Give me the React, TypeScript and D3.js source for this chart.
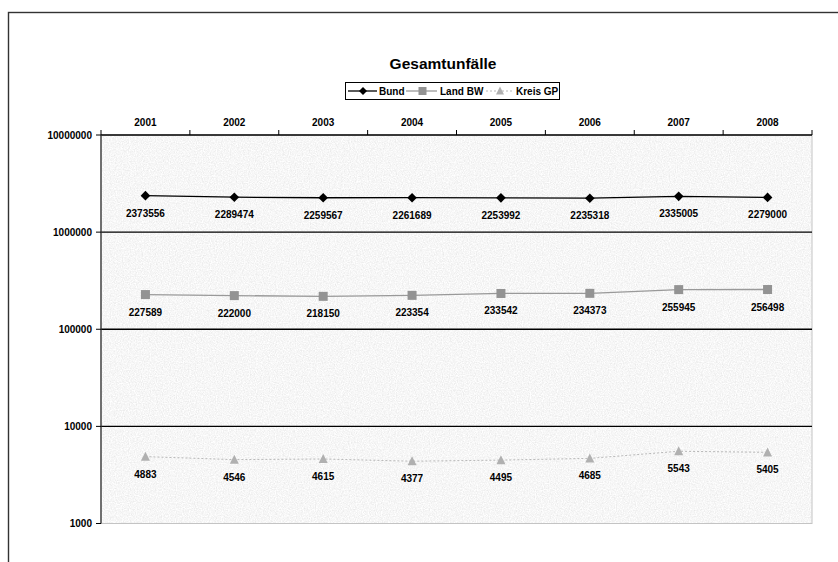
import React from "react";
import * as d3 from "d3";

const years = ["2001", "2002", "2003", "2004", "2005", "2006", "2007", "2008"];
const bund = [2373556, 2289474, 2259567, 2261689, 2253992, 2235318, 2335005, 2279000];
const landBW = [227589, 222000, 218150, 223354, 233542, 234373, 255945, 256498];
const kreisGP = [4883, 4546, 4615, 4377, 4495, 4685, 5543, 5405];
const yTicks = [1000, 10000, 100000, 1000000, 10000000];
const seriesNames = ["Bund", "Land BW", "Kreis GP"];

const FONT = "'Liberation Sans', Arial, Helvetica, sans-serif";

export default function App() {
  const left = 101, right = 812, top = 135, bottom = 523.5;
  const x = d3.scaleBand<string>().domain(years).range([left, right]);
  const y = d3.scaleLog().domain([1000, 10000000]).range([bottom, top]);
  const cx = (d: string) => (x(d) as number) + x.bandwidth() / 2;
  const line = d3.line<number>().x((_, i) => cx(years[i])).y((v) => y(v));
  const boundaries = [...years.map((d) => x(d) as number), right];

  const diamond = (px: number, py: number, r: number) =>
    `M${px},${py - r}L${px + r},${py}L${px},${py + r}L${px - r},${py}Z`;
  const tri = (px: number, py: number, s: number) =>
    `M${px},${py - s * 0.55}L${px + s / 2},${py + s * 0.45}L${px - s / 2},${py + s * 0.45}Z`;

  const labelStyle = { fontFamily: FONT, fontSize: 10, fontWeight: 700, fill: "#000" } as const;
  const legendStyle = { fontFamily: FONT, fontSize: 10, fontWeight: 700, fill: "#000" } as const;

  return (
    <svg width={838} height={562} style={{ position: "absolute", left: 0, top: 0, background: "#fff" }}>
      <defs>
        <filter id="granite" x="0" y="0" width="1" height="1" filterUnits="objectBoundingBox">
          <feTurbulence type="fractalNoise" baseFrequency="0.85" numOctaves={2} seed={3} result="n" />
          <feColorMatrix
            in="n"
            type="matrix"
            values="0.3 0 0 0 0.775  0.3 0 0 0 0.775  0.3 0 0 0 0.775  0 0 0 0 1"
            result="g"
          />
          <feComposite in="g" in2="SourceGraphic" operator="in" />
        </filter>
      </defs>

      {/* outer chart border */}
      <rect x={8.5} y={12.5} width={900} height={600} fill="none" stroke="#333" strokeWidth={1.4} />

      {/* title */}
      <text x={443} y={69} textAnchor="middle" style={{ fontFamily: FONT, fontSize: 15.5, fontWeight: 700 }}>
        Gesamtunfälle
      </text>

      {/* legend */}
      <g>
        <rect x={345.5} y={82.5} width={214} height={17} fill="#fff" stroke="#000" strokeWidth={1} />
        <line x1={348} x2={377} y1={91} y2={91} stroke="#000" strokeWidth={1.3} />
        <path d={diamond(363, 91, 4)} fill="#000" />
        <text x={379} y={95} style={legendStyle}>{seriesNames[0]}</text>
        <line x1={406} x2={437} y1={91} y2={91} stroke="#999" strokeWidth={1.3} />
        <rect x={418.5} y={87} width={8} height={8} fill="#939393" />
        <text x={440} y={95} style={legendStyle}>{seriesNames[1]}</text>
        <line x1={486} x2={514} y1={91} y2={91} stroke="#b8b8b8" strokeWidth={1} strokeDasharray="2,2" />
        <path d={tri(500, 91, 8)} fill="#b0b0b0" />
        <text x={516} y={95} style={legendStyle}>{seriesNames[2]}</text>
      </g>

      {/* plot area */}
      <rect x={left} y={top} width={right - left} height={bottom - top} fill="#ececec" />
      <rect x={left} y={top} width={right - left} height={bottom - top} fill="#fff" filter="url(#granite)" />
      <rect x={left} y={top} width={right - left} height={bottom - top} fill="none" stroke="#c4c4c4" strokeWidth={1} />

      {/* gridlines */}
      {yTicks.slice(1, -1).map((t) => (
        <line key={t} x1={left} x2={right} y1={y(t)} y2={y(t)} stroke="#000" strokeWidth={1.3} />
      ))}

      {/* top axis (categories) */}
      <line x1={left} x2={right} y1={top} y2={top} stroke="#000" strokeWidth={1.3} />
      {boundaries.map((b, i) => (
        <line key={i} x1={b} x2={b} y1={top - 5} y2={top} stroke="#000" strokeWidth={1} />
      ))}
      {years.map((d) => (
        <text key={d} x={cx(d)} y={126} textAnchor="middle" style={labelStyle}>
          {d}
        </text>
      ))}

      {/* left axis */}
      <line x1={left} x2={left} y1={top} y2={bottom} stroke="#333" strokeWidth={1.3} />
      {yTicks.map((t) => (
        <g key={t}>
          <line x1={left - 5} x2={left} y1={y(t)} y2={y(t)} stroke="#000" strokeWidth={1} />
          <text x={92} y={y(t) + 3.5} textAnchor="end" style={labelStyle}>
            {t}
          </text>
        </g>
      ))}

      {/* Kreis GP */}
      <path d={line(kreisGP) as string} fill="none" stroke="#b8b8b8" strokeWidth={1} strokeDasharray="2,2" />
      {kreisGP.map((v, i) => (
        <g key={i}>
          <path d={tri(cx(years[i]), y(v), 9)} fill="#b0b0b0" />
          <text x={cx(years[i])} y={y(v) + 21} textAnchor="middle" style={labelStyle}>
            {v}
          </text>
        </g>
      ))}

      {/* Land BW */}
      <path d={line(landBW) as string} fill="none" stroke="#999" strokeWidth={1.3} />
      {landBW.map((v, i) => (
        <g key={i}>
          <rect x={cx(years[i]) - 4.5} y={y(v) - 4.5} width={9} height={9} fill="#939393" />
          <text x={cx(years[i])} y={y(v) + 21} textAnchor="middle" style={labelStyle}>
            {v}
          </text>
        </g>
      ))}

      {/* Bund */}
      <path d={line(bund) as string} fill="none" stroke="#000" strokeWidth={1.3} />
      {bund.map((v, i) => (
        <g key={i}>
          <path d={diamond(cx(years[i]), y(v), 4.8)} fill="#000" />
          <text x={cx(years[i])} y={y(v) + 21} textAnchor="middle" style={labelStyle}>
            {v}
          </text>
        </g>
      ))}
    </svg>
  );
}
